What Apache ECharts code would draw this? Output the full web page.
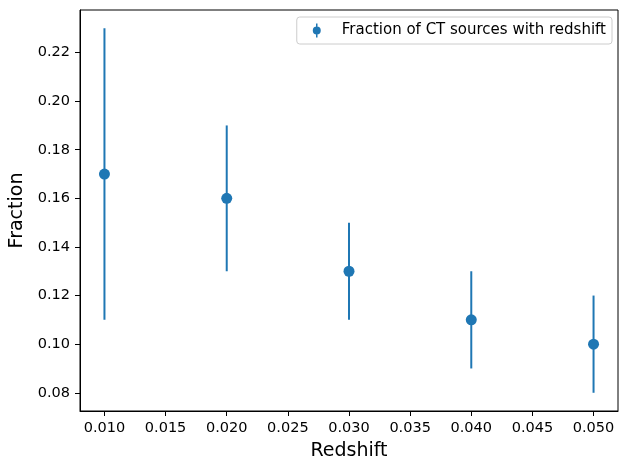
<!DOCTYPE html>
<html><head><meta charset="utf-8">
<script src="https://cdn.jsdelivr.net/npm/echarts@6/dist/echarts.min.js"></script>
<style>html,body{margin:0;padding:0;background:#fff}#c{width:619px;height:459px}</style>
</head><body><div id="c"></div>
<script>
const redshift = [0.01, 0.02, 0.03, 0.04, 0.05];
const fraction = [0.17, 0.16, 0.13, 0.11, 0.10];
const fracErr = [0.06, 0.03, 0.02, 0.02, 0.02];
const xTicks = [0.010, 0.015, 0.020, 0.025, 0.030, 0.035, 0.040, 0.045, 0.050];
const yTicks = [0.08, 0.10, 0.12, 0.14, 0.16, 0.18, 0.20, 0.22];
const seriesName = 'Fraction of CT sources with redshift';
const color = '#1f77b4';
const font = 'DejaVu Sans';

const chart = echarts.init(document.getElementById('c'), null, {renderer: 'canvas'});
const errData = redshift.map((x, i) => [x, fraction[i] - fracErr[i], fraction[i] + fracErr[i]]);
const ptData = redshift.map((x, i) => [x, fraction[i]]);

chart.setOption({
  animation: false,
  grid: {left: 80, top: 10, right: 1, bottom: 48, show: true, borderColor: '#000', borderWidth: 1,
    containLabel: false, outerBoundsMode: 'none'},
  legend: {
    data: [{name: seriesName, icon: 'path://M4.25,0 H5.75 V14 H4.25 Z M5,3 A4,4 0 1 1 5,11 A4,4 0 1 1 5,3 Z'}],
    right: 7, top: 17, itemWidth: 10, itemHeight: 14, itemGap: 0,
    padding: [6, 6, 6, 16],
    borderColor: '#cccccc', borderWidth: 1, borderRadius: 3,
    textStyle: {fontFamily: font, fontSize: 15, color: '#000', padding: [0, 0, 0, 15]}
  },
  xAxis: {
    type: 'value', min: 0.008, max: 0.052, interval: 0.005,
    name: 'Redshift', nameLocation: 'middle', nameGap: 31,
    nameTextStyle: {fontFamily: font, fontSize: 19, color: '#000'},
    axisLine: {show: true, lineStyle: {color: '#000', width: 1}},
    axisTick: {show: true, inside: false, length: 5, lineStyle: {color: '#000'},
      customValues: xTicks},
    axisLabel: {fontFamily: font, fontSize: 14.5, color: '#000', margin: 10,
      customValues: xTicks, formatter: v => v.toFixed(3)},
    splitLine: {show: false}
  },
  yAxis: {
    type: 'value', min: 0.0725, max: 0.2375,
    name: 'Fraction', nameLocation: 'middle', nameGap: 49,
    nameTextStyle: {fontFamily: font, fontSize: 19, color: '#000'},
    axisLine: {show: true, lineStyle: {color: '#000', width: 1}},
    axisTick: {show: true, inside: false, length: 5, lineStyle: {color: '#000'},
      customValues: yTicks},
    axisLabel: {fontFamily: font, fontSize: 14.5, color: '#000', margin: 10,
      customValues: yTicks, formatter: v => v.toFixed(2)},
    splitLine: {show: false}
  },
  series: [
    {
      type: 'custom', name: seriesName, data: errData, z: 2,
      encode: {x: 0, y: [1, 2]},
      renderItem: (params, api) => {
        const lo = api.coord([api.value(0), api.value(1)]);
        const hi = api.coord([api.value(0), api.value(2)]);
        return {type: 'line', shape: {x1: lo[0], y1: lo[1], x2: hi[0], y2: hi[1]},
          style: {stroke: color, lineWidth: 2}};
      },
      itemStyle: {color: color}
    },
    {
      type: 'scatter', name: seriesName, data: ptData, z: 3,
      symbol: 'circle', symbolSize: 11, itemStyle: {color: color, opacity: 1}
    }
  ]
});
</script></body></html>
